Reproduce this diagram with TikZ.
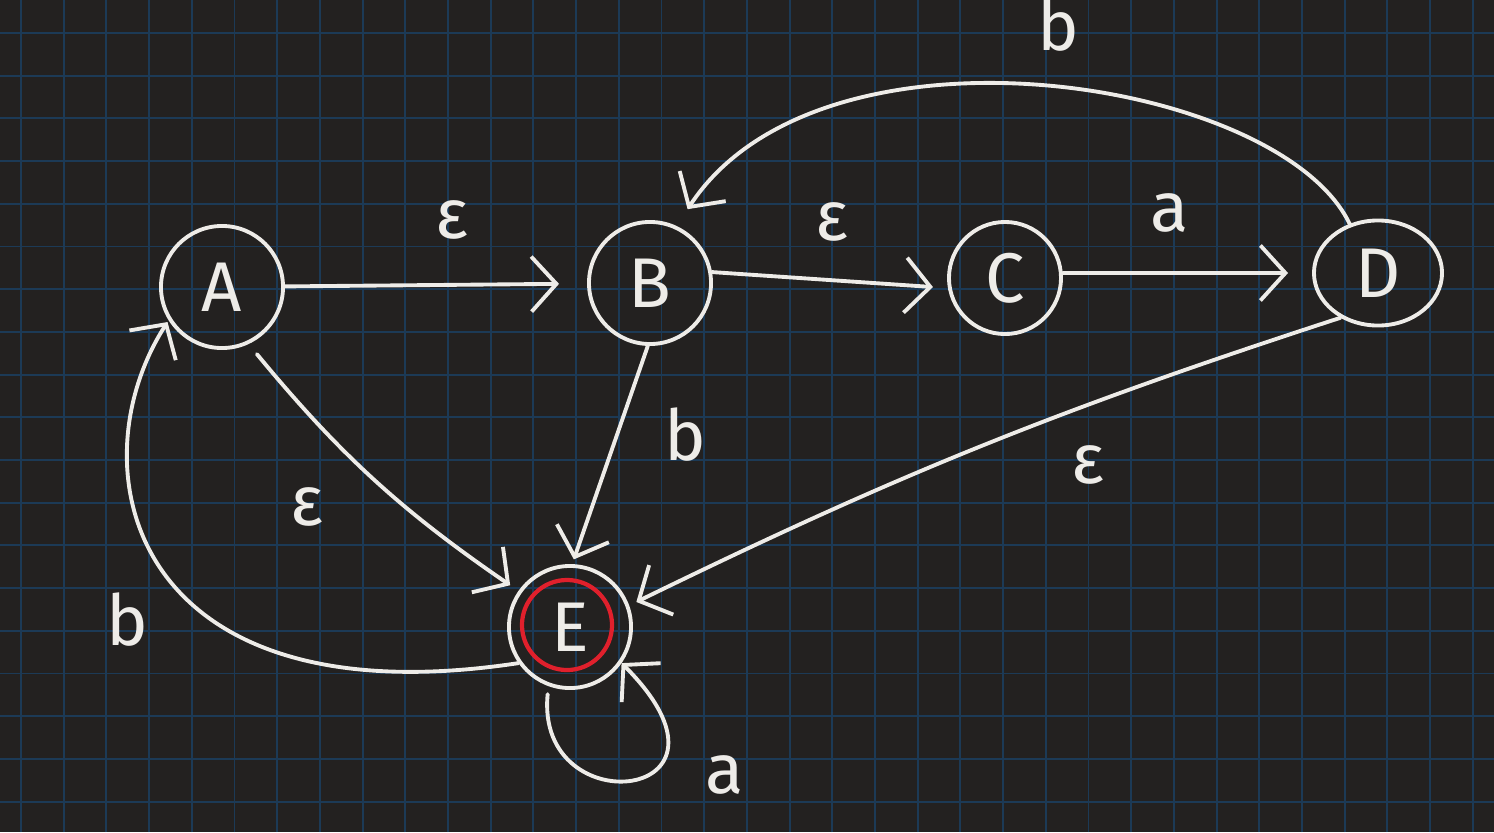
\documentclass[tikz,border=0pt]{standalone}
\usepackage{fontspec}
\setmainfont{Fira Sans}
\usepackage{tikz}
\usetikzlibrary{arrows.meta,shapes.geometric}
\definecolor{board}{HTML}{232120}
\definecolor{gridblue}{HTML}{1C3A56}
\definecolor{chalk}{HTML}{EEECE8}
\definecolor{ringred}{HTML}{E0202C}

\begin{document}
\begin{tikzpicture}[
        x=0.01cm, y=0.01cm,
        state/.style={circle, draw=chalk, line width=1.1pt, minimum size=1.22cm, inner sep=0pt, text=chalk, font=\fontsize{20}{24}\selectfont},
        flat state/.style={ellipse, draw=chalk, line width=1.1pt, minimum width=1.28cm, minimum height=1.05cm, inner sep=0pt, text=chalk, font=\fontsize{20}{24}\selectfont},
        trans edge/.style={draw=chalk, line width=1.1pt, line cap=round, -{Straight Barb[length=2.5mm, width=5.5mm]}},
        edge label/.style={text=chalk, font=\fontsize{20}{24}\selectfont},
        grid line/.style={draw=gridblue, line width=0.55pt}
    ]
        % Board and grid
        \useasboundingbox (0,0) rectangle (1494,832);
        \fill[board] (0,0) rectangle (1494,832);
        \foreach \gx in {0,...,34}
            \draw[grid line] ({21+42.7*\gx},0) -- ++(0,832);
        \foreach \gy in {0,...,18}
            \draw[grid line] (0,{799-42.7*\gy}) -- ++(1494,0);

        % States
        \node[state] (A) at (222,545) {A};
        \node[state] (B) at (650,549) {B};
        \node[state, minimum size=1.12cm] (C) at (1005,554) {C};
        \node[flat state] (D) at (1378,559) {D};
        \node[state] (E) at (570,205) {E};
        \node[circle, draw=ringred, line width=1.2pt, minimum size=0.9cm] (ring) at (567,207) {};

        % Transitions
        \draw[trans edge, shorten >=0.28cm] (A) -- (B);
        \draw[trans edge, shorten >=0.15cm] (B.10) -- (C.190);
        \draw[trans edge, shorten >=0.24cm] (C.5) -- (D.180);
        \draw[trans edge, shorten >=0.2cm] (D.120) .. controls +(-70,146) and +(144,220) .. (B.65);
        \draw[trans edge, shorten >=0.05cm] (B.-92) -- (E.88);
        \draw[trans edge, shorten <=0.13cm, shorten >=0.1cm] (A.-65) to[bend right=8] (E.145);
        \draw[trans edge, shorten >=0.08cm] (D.-130) to[bend right=4] (E.20);
        \draw[trans edge, shorten >=0.02cm] (E.215) .. controls +(-389,-59) and +(-95,-148) .. (A.212);
        \draw[trans edge, shorten <=0.08cm] (E.-110) .. controls +(-14,-140) and +(139,-139) .. (E.-35);

        % Labels
        \node[edge label] (lAB) at (452,612) {ε};
        \node[edge label] (lBC) at (832,610) {ε};
        \node[edge label] (lCD) at (1170,619) {a};
        \node[edge label] (lDB) at (1058,807) {b};
        \node[edge label] (lBE) at (685,397) {b};
        \node[edge label] (lAE) at (307,325) {ε};
        \node[edge label] (lDE) at (1088,367) {ε};
        \node[edge label] (lEA) at (127,212) {b};
        \node[edge label] (lEE) at (725,57) {a};
\end{tikzpicture}
\end{document}
